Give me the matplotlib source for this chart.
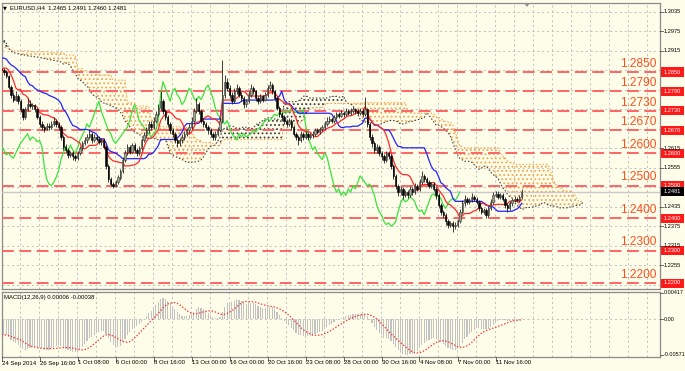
import numpy as np
import pandas as pd
import matplotlib
matplotlib.use("Agg")
import matplotlib.pyplot as plt
import matplotlib.transforms as mtrans
from matplotlib.patches import Rectangle, Polygon
from matplotlib.lines import Line2D

plt.rcParams['font.family'] = ['Liberation Sans', 'DejaVu Sans']
plt.rcParams['hatch.linewidth'] = 0.8
plt.rcParams['lines.scale_dashes'] = False

# ---------------- data (EURUSD H4, 24 Sep 2014 - 13 Nov 2014) ----------------
first_open = 1.2860
closes = [
    1.2855, 1.2850, 1.2838, 1.2805, 1.2780, 1.2765, 1.2775, 1.2760, 1.2735, 1.2712,
    1.2735, 1.2750, 1.2745, 1.2748, 1.2735, 1.2712, 1.2690, 1.2680, 1.2675, 1.2685,
    1.2680, 1.2690, 1.2700, 1.2690, 1.2680, 1.2650, 1.2620, 1.2610, 1.2595, 1.2600,
    1.2590, 1.2585, 1.2600, 1.2615, 1.2630, 1.2640, 1.2650, 1.2660, 1.2640, 1.2650,
    1.2645, 1.2635, 1.2640, 1.2620, 1.2560, 1.2520, 1.2505, 1.2500, 1.2510, 1.2525,
    1.2545, 1.2580, 1.2600, 1.2620, 1.2605, 1.2625, 1.2610, 1.2600, 1.2615, 1.2640,
    1.2655, 1.2670, 1.2690, 1.2680, 1.2700, 1.2720, 1.2740, 1.2760, 1.2730, 1.2710,
    1.2690, 1.2670, 1.2660, 1.2640, 1.2630, 1.2640, 1.2650, 1.2660, 1.2670, 1.2680,
    1.2700, 1.2730, 1.2750, 1.2730, 1.2700, 1.2690, 1.2680, 1.2670, 1.2660, 1.2650,
    1.2660, 1.2670, 1.2700, 1.2780, 1.2820, 1.2800, 1.2780, 1.2760, 1.2790, 1.2800,
    1.2780, 1.2770, 1.2750, 1.2760, 1.2780, 1.2800, 1.2790, 1.2770, 1.2760, 1.2775,
    1.2765, 1.2780, 1.2800, 1.2810, 1.2790, 1.2770, 1.2740, 1.2720, 1.2710, 1.2700,
    1.2690, 1.2700, 1.2680, 1.2660, 1.2650, 1.2640, 1.2660, 1.2650, 1.2660, 1.2650,
    1.2655, 1.2660, 1.2670, 1.2665, 1.2675, 1.2680, 1.2690, 1.2700, 1.2705, 1.2700,
    1.2710, 1.2720, 1.2715, 1.2725, 1.2720, 1.2730, 1.2725, 1.2730, 1.2735, 1.2730,
    1.2725, 1.2730, 1.2720, 1.2735, 1.2690, 1.2650, 1.2630, 1.2610, 1.2620, 1.2600,
    1.2590, 1.2580, 1.2600, 1.2590, 1.2560, 1.2530, 1.2500, 1.2480, 1.2490, 1.2470,
    1.2480, 1.2470, 1.2490, 1.2480, 1.2500, 1.2490, 1.2510, 1.2530, 1.2520, 1.2510,
    1.2500, 1.2505, 1.2490, 1.2470, 1.2440, 1.2420, 1.2410, 1.2390, 1.2380, 1.2385,
    1.2375, 1.2380, 1.2390, 1.2420, 1.2445, 1.2460, 1.2450, 1.2455, 1.2465, 1.2460,
    1.2450, 1.2430, 1.2420, 1.2425, 1.2410, 1.2430, 1.2450, 1.2470, 1.2475, 1.2465,
    1.2470, 1.2460, 1.2440, 1.2430, 1.2445, 1.2455, 1.2460, 1.2455, 1.2465, 1.2481,
]
highs = [
    1.2866, 1.2862, 1.2855, 1.2842, 1.2810, 1.2788, 1.2790, 1.2782, 1.2766, 1.2740,
    1.2742, 1.2770, 1.2765, 1.2756, 1.2752, 1.2740, 1.2718, 1.2698, 1.2688, 1.2694,
    1.2692, 1.2698, 1.2712, 1.2706, 1.2696, 1.2686, 1.2656, 1.2628, 1.2616, 1.2608,
    1.2606, 1.2596, 1.2606, 1.2622, 1.2638, 1.2650, 1.2660, 1.2672, 1.2666, 1.2658,
    1.2656, 1.2652, 1.2648, 1.2646, 1.2626, 1.2566, 1.2528, 1.2512, 1.2516, 1.2532,
    1.2552, 1.2588, 1.2610, 1.2628, 1.2626, 1.2632, 1.2630, 1.2616, 1.2622, 1.2648,
    1.2664, 1.2680, 1.2700, 1.2698, 1.2710, 1.2730, 1.2752, 1.2790, 1.2768, 1.2736,
    1.2716, 1.2696, 1.2678, 1.2666, 1.2648, 1.2648, 1.2658, 1.2668, 1.2678, 1.2690,
    1.2710, 1.2740, 1.2770, 1.2758, 1.2736, 1.2708, 1.2696, 1.2688, 1.2678, 1.2666,
    1.2668, 1.2680, 1.2710, 1.2887, 1.2840, 1.2830, 1.2810, 1.2788, 1.2800, 1.2812,
    1.2808, 1.2788, 1.2776, 1.2768, 1.2790, 1.2812, 1.2808, 1.2796, 1.2776, 1.2782,
    1.2780, 1.2788, 1.2810, 1.2822, 1.2816, 1.2796, 1.2776, 1.2746, 1.2728, 1.2716,
    1.2706, 1.2708, 1.2706, 1.2686, 1.2666, 1.2656, 1.2668, 1.2666, 1.2668, 1.2666,
    1.2662, 1.2668, 1.2678, 1.2676, 1.2682, 1.2688, 1.2698, 1.2710, 1.2714, 1.2712,
    1.2718, 1.2728, 1.2726, 1.2734, 1.2730, 1.2738, 1.2736, 1.2738, 1.2742, 1.2740,
    1.2736, 1.2738, 1.2736, 1.2773, 1.2740, 1.2696, 1.2658, 1.2636, 1.2628, 1.2626,
    1.2606, 1.2596, 1.2608, 1.2606, 1.2596, 1.2566, 1.2536, 1.2506, 1.2498, 1.2496,
    1.2488, 1.2486, 1.2498, 1.2496, 1.2508, 1.2506, 1.2520, 1.2545, 1.2536, 1.2526,
    1.2516, 1.2512, 1.2510, 1.2496, 1.2476, 1.2446, 1.2426, 1.2416, 1.2396, 1.2392,
    1.2390, 1.2388, 1.2398, 1.2428, 1.2455, 1.2470, 1.2466, 1.2462, 1.2478, 1.2472,
    1.2466, 1.2456, 1.2436, 1.2432, 1.2430, 1.2438, 1.2458, 1.2480, 1.2484, 1.2482,
    1.2478, 1.2476, 1.2466, 1.2446, 1.2452, 1.2462, 1.2468, 1.2466, 1.2472, 1.2491,
]
lows = [
    1.2848, 1.2842, 1.2830, 1.2798, 1.2770, 1.2757, 1.2760, 1.2752, 1.2726, 1.2702,
    1.2706, 1.2730, 1.2738, 1.2736, 1.2726, 1.2704, 1.2682, 1.2672, 1.2666, 1.2670,
    1.2672, 1.2674, 1.2684, 1.2682, 1.2670, 1.2642, 1.2610, 1.2600, 1.2586, 1.2588,
    1.2580, 1.2576, 1.2578, 1.2594, 1.2608, 1.2624, 1.2632, 1.2644, 1.2632, 1.2634,
    1.2636, 1.2628, 1.2626, 1.2612, 1.2552, 1.2510, 1.2498, 1.2494, 1.2496, 1.2504,
    1.2518, 1.2540, 1.2574, 1.2594, 1.2598, 1.2600, 1.2602, 1.2592, 1.2594, 1.2610,
    1.2634, 1.2648, 1.2662, 1.2672, 1.2674, 1.2694, 1.2714, 1.2734, 1.2722, 1.2702,
    1.2682, 1.2662, 1.2650, 1.2632, 1.2620, 1.2622, 1.2632, 1.2642, 1.2652, 1.2662,
    1.2674, 1.2694, 1.2724, 1.2722, 1.2692, 1.2680, 1.2670, 1.2660, 1.2650, 1.2640,
    1.2642, 1.2652, 1.2664, 1.2694, 1.2770, 1.2790, 1.2770, 1.2750, 1.2754, 1.2782,
    1.2772, 1.2760, 1.2740, 1.2742, 1.2754, 1.2774, 1.2782, 1.2762, 1.2750, 1.2754,
    1.2758, 1.2760, 1.2774, 1.2794, 1.2782, 1.2762, 1.2732, 1.2710, 1.2700, 1.2690,
    1.2680, 1.2684, 1.2672, 1.2652, 1.2640, 1.2624, 1.2634, 1.2642, 1.2644, 1.2642,
    1.2644, 1.2648, 1.2654, 1.2658, 1.2660, 1.2668, 1.2674, 1.2684, 1.2694, 1.2692,
    1.2694, 1.2704, 1.2708, 1.2710, 1.2712, 1.2714, 1.2718, 1.2718, 1.2724, 1.2722,
    1.2718, 1.2718, 1.2712, 1.2714, 1.2682, 1.2640, 1.2620, 1.2600, 1.2602, 1.2592,
    1.2580, 1.2570, 1.2574, 1.2582, 1.2550, 1.2520, 1.2490, 1.2468, 1.2472, 1.2460,
    1.2464, 1.2462, 1.2464, 1.2472, 1.2474, 1.2482, 1.2484, 1.2504, 1.2512, 1.2502,
    1.2492, 1.2494, 1.2482, 1.2460, 1.2430, 1.2410, 1.2400, 1.2380, 1.2370, 1.2372,
    1.2358, 1.2366, 1.2372, 1.2384, 1.2414, 1.2438, 1.2442, 1.2444, 1.2450, 1.2452,
    1.2442, 1.2422, 1.2412, 1.2414, 1.2400, 1.2404, 1.2424, 1.2444, 1.2464, 1.2458,
    1.2458, 1.2452, 1.2432, 1.2420, 1.2424, 1.2438, 1.2448, 1.2448, 1.2450, 1.2460,
]

# Ichimoku values before the visible history
tenkan_early = [1.2856, 1.2862, 1.2862, 1.2856, 1.2841, 1.2825, 1.2801, 1.2795]
kijun_early = [1.2893, 1.2893, 1.2890, 1.2880, 1.2872, 1.2868, 1.2862, 1.2855, 1.2847,
               1.2840, 1.2836, 1.2820, 1.2810, 1.2808, 1.2800, 1.2795, 1.2792, 1.2788,
               1.2785, 1.2783, 1.2778, 1.2775, 1.2772, 1.2768, 1.2763]
spanA_early = [1.2955, 1.2949, 1.2939, 1.2925, 1.2914, 1.2910, 1.2908, 1.2906, 1.2904,
               1.2903, 1.2902, 1.2900, 1.2899, 1.2898, 1.2897, 1.2896, 1.2895, 1.2893,
               1.2892, 1.2890, 1.2889, 1.2887, 1.2886, 1.2884, 1.2883, 1.2881]
spanB_early = ([1.2930, 1.2927, 1.2924, 1.2921, 1.2918] + [1.2915] * 8 + [1.2912] * 8 +
               [1.2909] * 6 + [1.2902] * 5 + [1.2860] * 3 + [1.2850] * 6 + [1.2841] * 6 +
               [1.2825] * 6 + [1.2755] * 4 + [1.2745] * 6 + [1.2702] * 4 + [1.2681] * 10)
ema12_seed, ema26_seed = 1.2878, 1.2903

levels = [1.2850, 1.2790, 1.2730, 1.2670, 1.2600, 1.2500, 1.2400, 1.2300, 1.2200]
scale_labels = [1.3035, 1.2975, 1.2915, 1.2615, 1.2555, 1.2435, 1.2375, 1.2315, 1.2255]
date_labels = ["24 Sep 2014", "26 Sep 16:00", "1 Oct 08:00", "6 Oct 00:00", "8 Oct 16:00",
               "13 Oct 00:00", "16 Oct 00:00", "20 Oct 16:00", "23 Oct 08:00", "28 Oct 00:00",
               "30 Oct 16:00", "4 Nov 08:00", "7 Nov 00:00", "11 Nov 16:00"]
last_price = 1.2481
title = "EURUSD,H4  1.2465 1.2491 1.2460 1.2481"
macd_title = "MACD(12,26,9) 0.00006 -0.00038"
macd_scale = [(0.00417, "0.00417"), (0.0, "0.00"), (-0.00571, "-0.00571")]

# ---------------- indicators ----------------
c = np.array(closes); hi = np.array(highs); lo = np.array(lows)
n = len(c)
o = np.r_[first_open, c[:-1]]


def midline(period):
    out = np.full(n, np.nan)
    for i in range(period - 1, n):
        out[i] = (hi[i - period + 1:i + 1].max() + lo[i - period + 1:i + 1].min()) / 2
    return out


tenkan = midline(9); tenkan[:8] = tenkan_early
kijun = midline(26); kijun[:25] = kijun_early
spanA = np.full(n + 26, np.nan); spanA[26:] = (tenkan + kijun) / 2; spanA[:26] = spanA_early
spanB = np.full(n + 26, np.nan); spanB[77:] = midline(52)[51:]; spanB[:77] = spanB_early

e12, e26 = ema12_seed, ema26_seed
macd = []
for v in c:
    e12 += (v - e12) * 2 / 13
    e26 += (v - e26) * 2 / 27
    macd.append(e12 - e26)
macd = np.array(macd)
signal = pd.Series(macd).rolling(9, min_periods=1).mean().values

# ---------------- layout ----------------
W, H = 685, 371
BG = '#FEFDEA'
fig = plt.figure(figsize=(W / 100, H / 100), dpi=100)
fig.patch.set_facecolor(BG)


def fx(px):
    return px / W


def fy(py):
    return 1 - py / H


ax = fig.add_axes([fx(2), fy(289), fx(660) - fx(2), fy(3) - fy(289)])
axm = fig.add_axes([fx(2), fy(357), fx(660) - fx(2), fy(292) - fy(357)])
X0, DX = 1.5, 2.375
xlim = ((2 - X0) / DX, (660 - X0) / DX)
PPP = 0.065 / 211
ylim = (1.2850 - (289 - 72) * PPP, 1.2850 + (72 - 3) * PPP)
MPP = (0.00417 + 0.00571) / 62
mylim = (-0.00571 - 2 * MPP, 0.00417 + 1 * MPP)

for a in (ax, axm):
    a.set_facecolor(BG)
    a.set_xlim(*xlim)
    a.set_xticks([]); a.set_yticks([])
    for s in a.spines.values():
        s.set_color('#8c8c8c'); s.set_linewidth(0.9)
ax.set_ylim(*ylim)
axm.set_ylim(*mylim)

grid_kw = dict(color='#c2c2c2', lw=0.7, ls=(0, (1.5, 2.0)), zorder=0)
for g in np.arange(8, 280, 8):
    ax.axvline(g - 0.3, **grid_kw)
    axm.axvline(g - 0.3, **grid_kw)
for p in np.arange(1.2195, 1.3100, 0.006):
    ax.axhline(p, **grid_kw)
axm.axhline(0, **grid_kw)

# level lines
for lv in levels:
    ax.axhline(lv, color='#ff6464', lw=1.4, dashes=(8.5, 4.0), zorder=3)
    ax.text((656 - X0) / DX, lv + 0.0007, f"{lv:.4f}", color='#ff4f1f', fontsize=8.6,
            ha='right', va='bottom', zorder=9)
ax.axhline(last_price, color='#c8c8c8', lw=1.0, zorder=3)

# cloud
pos = np.arange(n + 26)
ax.fill_between(pos, spanA, spanB, where=spanA >= spanB, interpolate=True, facecolor='none',
                edgecolor='#404040', hatch='....', linewidth=0, zorder=2)
ax.fill_between(pos, spanA, spanB, where=spanB > spanA, interpolate=True, facecolor='none',
                edgecolor='#f6a548', hatch='....', linewidth=0, zorder=2)
ax.plot(pos, spanA, color='#3a3a3a', lw=0.8, ls=(0, (1, 1.4)), zorder=2)
ax.plot(pos, spanB, color='#f5a142', lw=0.8, ls=(0, (1, 1.4)), zorder=2)

# lines
idx = np.arange(n)
ax.plot(idx[26:] - 26, c[26:], color='#3ce23c', lw=0.9, zorder=4)
ax.plot(idx, kijun, color='#2424ff', lw=0.9, zorder=4)
ax.plot(idx, tenkan, color='#ff2a2a', lw=0.9, zorder=4)

# candles
up = c >= o
ax.vlines(idx, lo, hi, color='#202020', lw=0.6, zorder=5)
ax.bar(idx[up], (c - o)[up], bottom=o[up], width=0.62, color='#a3a890',
       edgecolor='#303030', lw=0.4, zorder=6)
ax.bar(idx[~up], (o - c)[~up], bottom=c[~up], width=0.62, color='#000000',
       edgecolor='#000000', lw=0.4, zorder=6)

# MACD
axm.bar(idx, macd, width=0.45, color='#c2c2c2', zorder=2)
axm.plot(idx, signal, color='#ff3030', lw=0.9, ls=(0, (1, 1.3)), zorder=3)

# ---------------- texts ----------------
fig.text(fx(3), fy(7.5), "\u25bc", fontsize=3.6, va='center', ha='left', family=['DejaVu Sans'])
fig.text(fx(10), fy(7.5), title, fontsize=4.3, va='center', ha='left')
fig.text(fx(4), fy(297), macd_title, fontsize=4.3, va='center', ha='left')
fig.add_artist(Polygon([[fx(524), fy(3)], [fx(530), fy(3)], [fx(527), fy(7)]], closed=True,
                       facecolor='#909090', edgecolor='none', transform=fig.transFigure))

# right price scale
blend = mtrans.blended_transform_factory(fig.transFigure, ax.transData)
for p in scale_labels:
    fig.add_artist(Line2D([fx(660), fx(663)], [p, p], color='#505050', lw=0.6, transform=blend))
    fig.text(fx(664), p, f"{p:.4f}", fontsize=4.1, va='center', ha='left', transform=blend)
bh = 9 * PPP
for lv in levels:
    fig.add_artist(Rectangle((fx(661), lv - bh / 2), fx(684) - fx(661), bh, transform=blend,
                             facecolor='#ff1a1a', edgecolor='none'))
    fig.text(fx(672.5), lv, f"{lv:.4f}", fontsize=4.1, color='white', va='center', ha='center',
             transform=blend)
fig.add_artist(Rectangle((fx(661), last_price - bh / 2), fx(684) - fx(661), bh, transform=blend,
                         facecolor='#000000', edgecolor='none'))
fig.text(fx(672.5), last_price, f"{last_price:.4f}", fontsize=4.1, color='white', va='center',
         ha='center', transform=blend)

# MACD scale
mblend = mtrans.blended_transform_factory(fig.transFigure, axm.transData)
for v, s in macd_scale:
    fig.add_artist(Line2D([fx(660), fx(663)], [v, v], color='#505050', lw=0.6, transform=mblend))
    fig.text(fx(663.5), v, s, fontsize=3.9, va='center', ha='left', transform=mblend)

# date scale
for k, lab in enumerate(date_labels):
    xp = X0 + DX * 16 * k
    fig.add_artist(Line2D([fx(xp), fx(xp)], [fy(357), fy(361)], color='#505050', lw=0.6,
                          transform=fig.transFigure))
    fig.text(fx(xp + 0.5), fy(363), lab, fontsize=4.3, va='center', ha='left')

fig.savefig("out.png", dpi=100, facecolor=BG)
